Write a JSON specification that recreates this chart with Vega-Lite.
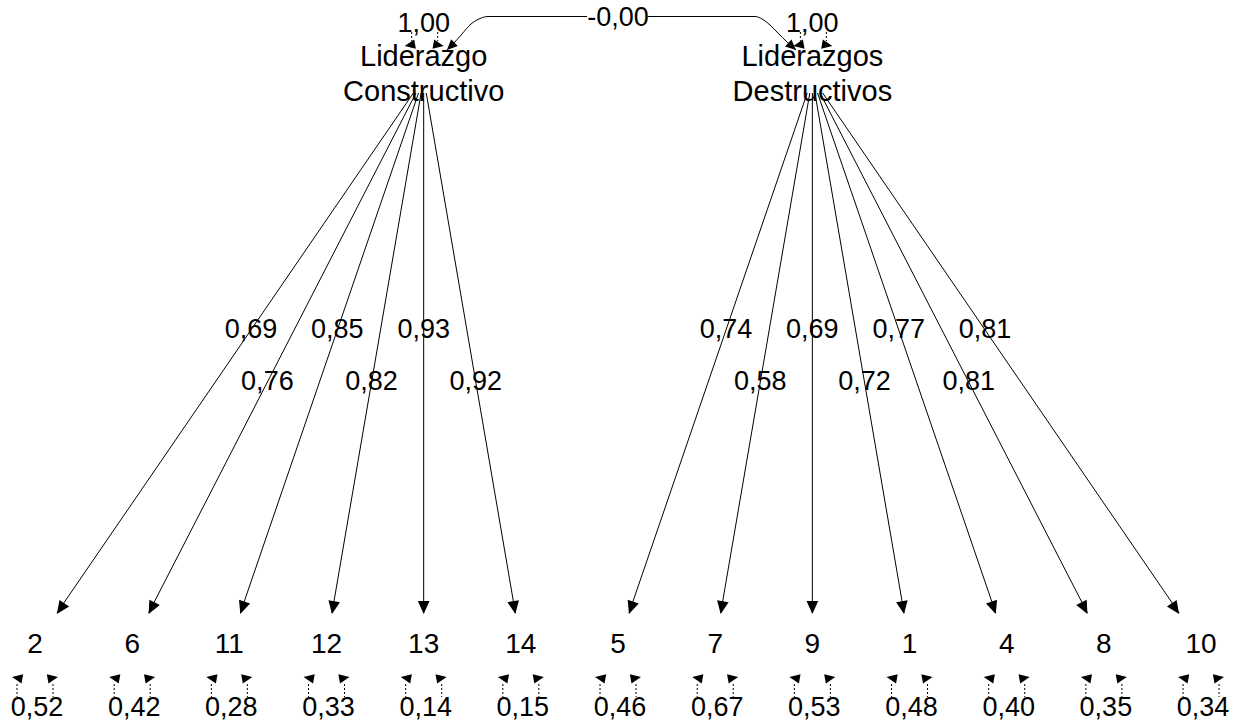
{
  "$schema": "https://vega.github.io/schema/vega-lite/v6.json",
  "width": 1238,
  "height": 721,
  "padding": 0,
  "autosize": {"type": "none"},
  "background": "white",
  "config": {
    "view": {"stroke": null},
    "text": {"font": "Liberation Sans", "fontSize": 27, "color": "black", "baseline": "middle", "align": "center"}
  },
  "datasets": {
    "items": [
      {"item": "2", "factor": "Constructivo", "col": 0, "loading": 0.69, "errvar": 0.52},
      {"item": "6", "factor": "Constructivo", "col": 1, "loading": 0.76, "errvar": 0.42},
      {"item": "11", "factor": "Constructivo", "col": 2, "loading": 0.85, "errvar": 0.28},
      {"item": "12", "factor": "Constructivo", "col": 3, "loading": 0.82, "errvar": 0.33},
      {"item": "13", "factor": "Constructivo", "col": 4, "loading": 0.93, "errvar": 0.14},
      {"item": "14", "factor": "Constructivo", "col": 5, "loading": 0.92, "errvar": 0.15},
      {"item": "5", "factor": "Destructivos", "col": 6, "loading": 0.74, "errvar": 0.46},
      {"item": "7", "factor": "Destructivos", "col": 7, "loading": 0.58, "errvar": 0.67},
      {"item": "9", "factor": "Destructivos", "col": 8, "loading": 0.69, "errvar": 0.53},
      {"item": "1", "factor": "Destructivos", "col": 9, "loading": 0.72, "errvar": 0.48},
      {"item": "4", "factor": "Destructivos", "col": 10, "loading": 0.77, "errvar": 0.40},
      {"item": "8", "factor": "Destructivos", "col": 11, "loading": 0.81, "errvar": 0.35},
      {"item": "10", "factor": "Destructivos", "col": 12, "loading": 0.81, "errvar": 0.34}
    ],
    "latents": [
      {"factor": "Constructivo", "line1": "Liderazgo", "line2": "Constructivo", "col": 4, "variance": 1.0},
      {"factor": "Destructivos", "line1": "Liderazgos", "line2": "Destructivos", "col": 8, "variance": 1.0}
    ],
    "covariances": [
      {"a": "Constructivo", "b": "Destructivos", "estimate": "-0,00"}
    ],
    "covpath": [
      {"seg": "a", "col": 4.240, "y": 50, "tip": "start"},
      {"seg": "a", "col": 4.302, "y": 44, "tip": ""},
      {"seg": "a", "col": 4.394, "y": 34, "tip": ""},
      {"seg": "a", "col": 4.487, "y": 24, "tip": ""},
      {"seg": "a", "col": 4.569, "y": 19, "tip": ""},
      {"seg": "a", "col": 4.662, "y": 16.5, "tip": ""},
      {"seg": "a", "col": 5.681, "y": 16.5, "tip": ""},
      {"seg": "b", "col": 6.308, "y": 16.5, "tip": ""},
      {"seg": "b", "col": 7.410, "y": 16.5, "tip": ""},
      {"seg": "b", "col": 7.482, "y": 19, "tip": ""},
      {"seg": "b", "col": 7.564, "y": 25, "tip": ""},
      {"seg": "b", "col": 7.646, "y": 33, "tip": ""},
      {"seg": "b", "col": 7.739, "y": 42, "tip": ""},
      {"seg": "b", "col": 7.832, "y": 50, "tip": "end"}
    ]
  },
  "layer": [
    {
      "data": {"name": "covpath"},
      "mark": {"type": "line", "color": "black", "strokeWidth": 1, "interpolate": "monotone"},
      "encoding": {
        "x": {"field": "col", "type": "quantitative", "scale": {"domain": [-0.3602, 12.3802], "nice": false, "zero": false}, "axis": null},
        "y": {"field": "y", "type": "quantitative", "scale": {"domain": [0, 721], "reverse": true, "nice": false, "zero": false}, "axis": null},
        "detail": {"field": "seg"}
      }
    },
    {
      "data": {"name": "covpath"},
      "transform": [{"filter": "datum.tip == 'start'"}],
      "mark": {"type": "point", "shape": "M0,0L-0.45,-1L0.45,-1Z", "filled": true, "color": "black", "opacity": 1, "size": 441, "angle": 45},
      "encoding": {
        "x": {"field": "col", "type": "quantitative", "axis": null},
        "y": {"field": "y", "type": "quantitative", "axis": null}
      }
    },
    {
      "data": {"name": "covpath"},
      "transform": [{"filter": "datum.tip == 'end'"}],
      "mark": {"type": "point", "shape": "M0,0L-0.45,-1L0.45,-1Z", "filled": true, "color": "black", "opacity": 1, "size": 441, "angle": -48},
      "encoding": {
        "x": {"field": "col", "type": "quantitative", "axis": null},
        "y": {"field": "y", "type": "quantitative", "axis": null}
      }
    },
    {
      "data": {"name": "items"},
      "transform": [
        {"lookup": "factor", "from": {"data": {"name": "latents"}, "key": "factor", "fields": ["col"]}, "as": ["lcol"]},
        {"calculate": "datum.col - datum.lcol", "as": "dx"},
        {"calculate": "datum.lcol + datum.dx*15/567", "as": "scol"},
        {"calculate": "datum.lcol + datum.dx*535/567", "as": "tcol"}
      ],
      "mark": {"type": "rule", "color": "black", "strokeWidth": 1},
      "encoding": {
        "x": {"field": "scol", "type": "quantitative", "axis": null},
        "x2": {"field": "tcol"},
        "y": {"datum": 93, "type": "quantitative", "axis": null},
        "y2": {"datum": 613}
      }
    },
    {
      "data": {"name": "items"},
      "transform": [
        {"lookup": "factor", "from": {"data": {"name": "latents"}, "key": "factor", "fields": ["col"]}, "as": ["lcol"]},
        {"calculate": "datum.col - datum.lcol", "as": "dx"},
        {"calculate": "datum.lcol + datum.dx*535/567", "as": "tcol"},
        {"calculate": "atan2(-datum.dx*97.17, 567)*180/PI", "as": "ang"}
      ],
      "mark": {"type": "point", "shape": "M0,0L-0.45,-1L0.45,-1Z", "filled": true, "color": "black", "opacity": 1, "size": 676},
      "encoding": {
        "x": {"field": "tcol", "type": "quantitative", "axis": null},
        "y": {"datum": 614, "type": "quantitative", "axis": null},
        "angle": {"field": "ang", "type": "quantitative", "scale": null}
      }
    },
    {
      "data": {"name": "items"},
      "transform": [
        {"lookup": "factor", "from": {"data": {"name": "latents"}, "key": "factor", "fields": ["col"]}, "as": ["lcol"]},
        {"calculate": "datum.col % 2 == 0 ? 330 : 382", "as": "ly"},
        {"calculate": "datum.lcol + (datum.col - datum.lcol)*(datum.ly-78)/567", "as": "lx"},
        {"calculate": "replace(format(datum.loading, '.2f'), '.', ',')", "as": "txt"}
      ],
      "mark": {"type": "text"},
      "encoding": {
        "x": {"field": "lx", "type": "quantitative", "axis": null},
        "y": {"field": "ly", "type": "quantitative", "axis": null},
        "text": {"field": "txt"}
      }
    },
    {
      "data": {"name": "items"},
      "mark": {"type": "text", "fontSize": 28},
      "encoding": {
        "x": {"field": "col", "type": "quantitative", "axis": null},
        "y": {"datum": 645, "type": "quantitative", "axis": null},
        "text": {"field": "item"}
      }
    },
    {
      "data": {"name": "items"},
      "mark": {"type": "rule", "color": "black", "strokeWidth": 1, "strokeDash": [2, 2], "xOffset": -18},
      "encoding": {
        "x": {"field": "col", "type": "quantitative", "axis": null},
        "y": {"datum": 684, "type": "quantitative", "axis": null},
        "y2": {"datum": 697}
      }
    },
    {
      "data": {"name": "items"},
      "mark": {"type": "rule", "color": "black", "strokeWidth": 1, "strokeDash": [2, 2], "xOffset": 18},
      "encoding": {
        "x": {"field": "col", "type": "quantitative", "axis": null},
        "y": {"datum": 684, "type": "quantitative", "axis": null},
        "y2": {"datum": 697}
      }
    },
    {
      "data": {"name": "items"},
      "mark": {"type": "point", "shape": "M0,0L-0.45,-1L0.45,-1Z", "filled": true, "color": "black", "opacity": 1, "size": 441, "angle": 100, "xOffset": -23},
      "encoding": {
        "x": {"field": "col", "type": "quantitative", "axis": null},
        "y": {"datum": 677, "type": "quantitative", "axis": null}
      }
    },
    {
      "data": {"name": "items"},
      "mark": {"type": "point", "shape": "M0,0L-0.45,-1L0.45,-1Z", "filled": true, "color": "black", "opacity": 1, "size": 441, "angle": -100, "xOffset": 23},
      "encoding": {
        "x": {"field": "col", "type": "quantitative", "axis": null},
        "y": {"datum": 677, "type": "quantitative", "axis": null}
      }
    },
    {
      "data": {"name": "items"},
      "transform": [{"calculate": "replace(format(datum.errvar, '.2f'), '.', ',')", "as": "txt"}],
      "mark": {"type": "text", "dx": 2},
      "encoding": {
        "x": {"field": "col", "type": "quantitative", "axis": null},
        "y": {"datum": 708, "type": "quantitative", "axis": null},
        "text": {"field": "txt"}
      }
    },
    {
      "data": {"name": "latents"},
      "mark": {"type": "rule", "color": "black", "strokeWidth": 1, "strokeDash": [2, 2], "xOffset": -12},
      "encoding": {
        "x": {"field": "col", "type": "quantitative", "axis": null},
        "y": {"datum": 32, "type": "quantitative", "axis": null},
        "y2": {"datum": 41}
      }
    },
    {
      "data": {"name": "latents"},
      "mark": {"type": "rule", "color": "black", "strokeWidth": 1, "strokeDash": [2, 2], "xOffset": 14},
      "encoding": {
        "x": {"field": "col", "type": "quantitative", "axis": null},
        "y": {"datum": 32, "type": "quantitative", "axis": null},
        "y2": {"datum": 41}
      }
    },
    {
      "data": {"name": "latents"},
      "mark": {"type": "point", "shape": "M0,0L-0.45,-1L0.45,-1Z", "filled": true, "color": "black", "opacity": 1, "size": 441, "angle": 80, "xOffset": -19},
      "encoding": {
        "x": {"field": "col", "type": "quantitative", "axis": null},
        "y": {"datum": 46, "type": "quantitative", "axis": null}
      }
    },
    {
      "data": {"name": "latents"},
      "mark": {"type": "point", "shape": "M0,0L-0.45,-1L0.45,-1Z", "filled": true, "color": "black", "opacity": 1, "size": 441, "angle": -80, "xOffset": 20},
      "encoding": {
        "x": {"field": "col", "type": "quantitative", "axis": null},
        "y": {"datum": 46, "type": "quantitative", "axis": null}
      }
    },
    {
      "data": {"name": "latents"},
      "transform": [{"calculate": "replace(format(datum.variance, '.2f'), '.', ',')", "as": "txt"}],
      "mark": {"type": "text"},
      "encoding": {
        "x": {"field": "col", "type": "quantitative", "axis": null},
        "y": {"datum": 24, "type": "quantitative", "axis": null},
        "text": {"field": "txt"}
      }
    },
    {
      "data": {"name": "latents"},
      "mark": {"type": "text", "fontSize": 29},
      "encoding": {
        "x": {"field": "col", "type": "quantitative", "axis": null},
        "y": {"datum": 57, "type": "quantitative", "axis": null},
        "text": {"field": "line1"}
      }
    },
    {
      "data": {"name": "latents"},
      "mark": {"type": "text", "fontSize": 29},
      "encoding": {
        "x": {"field": "col", "type": "quantitative", "axis": null},
        "y": {"datum": 92, "type": "quantitative", "axis": null},
        "text": {"field": "line2"}
      }
    },
    {
      "data": {"name": "covariances"},
      "transform": [
        {"lookup": "a", "from": {"data": {"name": "latents"}, "key": "factor", "fields": ["col"]}, "as": ["acol"]},
        {"lookup": "b", "from": {"data": {"name": "latents"}, "key": "factor", "fields": ["col"]}, "as": ["bcol"]},
        {"calculate": "(datum.acol + datum.bcol)/2", "as": "mid"}
      ],
      "mark": {"type": "text"},
      "encoding": {
        "x": {"field": "mid", "type": "quantitative", "axis": null},
        "y": {"datum": 18, "type": "quantitative", "axis": null},
        "text": {"field": "estimate"}
      }
    }
  ]
}
